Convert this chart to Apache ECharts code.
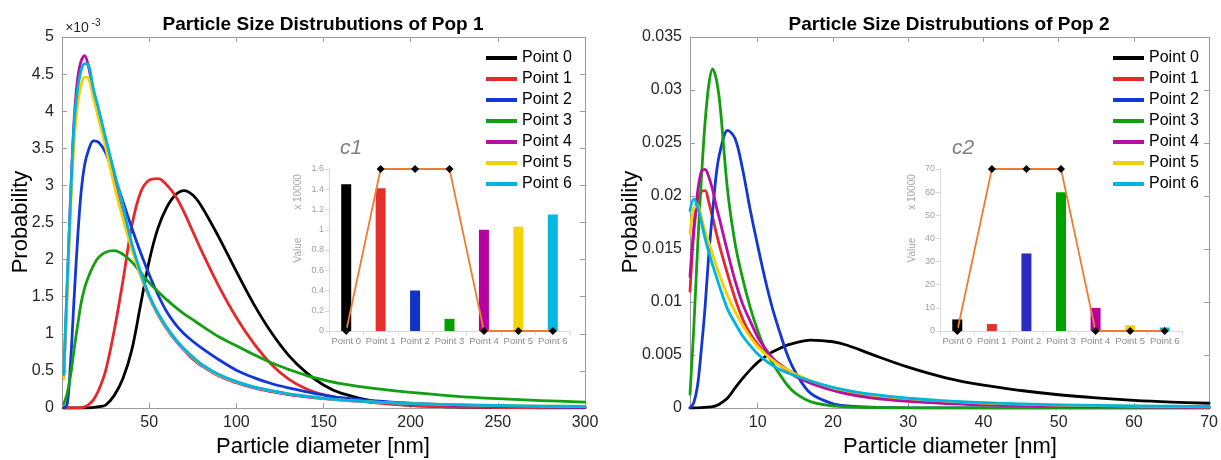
<!DOCTYPE html>
<html>
<head>
<meta charset="utf-8">
<script src="https://cdn.jsdelivr.net/npm/echarts@6/dist/echarts.min.js"></script>
<style>
html,body{margin:0;padding:0;background:#fff;}
#chart{width:1221px;height:460px;}
</style>
</head>
<body>
<div id="chart"></div>
<script>
// ---------- DATA ----------
// Legend names
const pointNames = ['Point 0','Point 1','Point 2','Point 3','Point 4','Point 5','Point 6'];

// Pop 1: particle diameter [nm]; probabilities in units of 1e-3
const pop1Diam = [1,3,5,7,9,11,13,15,18,21,25,30,35,40,45,50,55,60,65,70,75,80,90,100,110,120,130,140,150,160,180,200,225,250,275,300];
const pop1Point0 = [0,0,0,0,0,0,0,0.002,0.007,0.018,0.04,0.17,0.40,0.78,1.38,1.98,2.42,2.70,2.87,2.93,2.87,2.72,2.30,1.84,1.40,1.02,0.71,0.48,0.31,0.20,0.085,0.035,0.014,0.006,0.003,0.001];
const pop1Point1 = [0,0,0,0,0,0.005,0.015,0.04,0.11,0.24,0.50,1.05,1.72,2.45,2.90,3.07,3.09,3.01,2.86,2.64,2.38,2.12,1.64,1.22,0.87,0.59,0.39,0.26,0.18,0.13,0.07,0.035,0.015,0.007,0.003,0.001];
const pop1Point2 = [0,0.05,0.65,1.5,2.3,2.92,3.28,3.46,3.60,3.58,3.44,3.12,2.78,2.43,2.10,1.80,1.53,1.30,1.13,1.00,0.90,0.81,0.65,0.51,0.41,0.33,0.27,0.22,0.175,0.14,0.095,0.065,0.04,0.025,0.015,0.01];
const pop1Point3 = [0.05,0.2,0.45,0.8,1.12,1.42,1.62,1.76,1.92,2.03,2.10,2.12,2.07,1.97,1.83,1.69,1.57,1.46,1.36,1.27,1.19,1.11,0.96,0.84,0.72,0.61,0.52,0.44,0.38,0.33,0.26,0.21,0.16,0.125,0.10,0.08];
const pop1Point4 = [0.4,1.65,2.9,3.9,4.45,4.68,4.75,4.62,4.27,3.97,3.56,3.05,2.58,2.17,1.80,1.50,1.26,1.07,0.91,0.78,0.66,0.57,0.43,0.34,0.27,0.22,0.18,0.15,0.125,0.105,0.075,0.055,0.04,0.03,0.022,0.017];
const pop1Point5 = [0.4,1.55,2.7,3.6,4.1,4.35,4.46,4.45,4.18,3.9,3.52,3.0,2.55,2.15,1.80,1.51,1.27,1.08,0.92,0.79,0.68,0.58,0.44,0.35,0.28,0.23,0.19,0.16,0.13,0.11,0.08,0.06,0.045,0.034,0.026,0.02];
const pop1Point6 = [0.45,1.7,2.85,3.85,4.3,4.55,4.64,4.63,4.30,4.03,3.64,3.18,2.72,2.22,1.84,1.52,1.28,1.09,0.93,0.80,0.69,0.59,0.45,0.355,0.285,0.235,0.19,0.16,0.13,0.11,0.08,0.06,0.045,0.034,0.026,0.02];

// Pop 2: particle diameter [nm]; probabilities in units of 1e-3
const pop2Diam = [1,1.5,2,2.5,3,3.5,4,4.5,5,6,7,8,9,10,11,12,13,14,15,17,20,22,25,30,35,40,45,50,55,60,65,70];
const pop2Point0 = [0,0,0.01,0.03,0.06,0.09,0.12,0.22,0.4,0.95,1.9,2.8,3.6,4.3,4.85,5.3,5.65,5.95,6.15,6.4,6.25,5.9,5.1,3.85,2.85,2.15,1.65,1.25,0.95,0.72,0.56,0.45];
const pop2Point1 = [11.0,16.5,19.4,20.4,20.5,19.4,18.0,16.5,15.1,12.6,10.3,8.4,7.0,6.0,5.2,4.6,4.1,3.6,3.2,2.5,1.75,1.4,1.05,0.7,0.48,0.35,0.26,0.2,0.15,0.12,0.1,0.08];
const pop2Point2 = [0,0.5,2.1,5.5,9.5,14.5,18.5,22.1,24.2,26.2,25.4,22.5,18.7,15.3,12.1,9.3,7.0,4.9,3.4,1.4,0.4,0.2,0.08,0.02,0.01,0,0,0,0,0,0,0];
const pop2Point3 = [1.3,7.5,15.0,21.5,26.9,30.5,32.0,31.0,28.5,20.5,15.5,12.2,9.5,7.3,5.5,4.2,3.1,2.1,1.4,0.6,0.2,0.1,0.05,0.01,0,0,0,0,0,0,0,0];
const pop2Point4 = [12.4,17.0,20.3,22.3,22.5,21.8,20.6,19.0,17.6,14.7,12.0,9.8,8.2,6.7,5.6,4.7,4.0,3.5,3.0,2.35,1.65,1.3,0.95,0.62,0.42,0.3,0.22,0.16,0.12,0.1,0.08,0.06];
const pop2Point5 = [16.5,18.8,19.1,18.0,16.7,15.6,14.5,13.4,12.4,10.6,9.1,7.8,6.7,5.8,5.1,4.5,4.0,3.6,3.2,2.6,1.9,1.6,1.25,0.88,0.64,0.47,0.36,0.28,0.22,0.18,0.15,0.12];
const pop2Point6 = [18.6,19.7,19.0,17.6,16.0,14.7,13.5,12.4,11.3,9.3,8.0,6.8,5.9,5.1,4.5,4.0,3.6,3.3,3.05,2.55,1.95,1.65,1.3,0.92,0.68,0.5,0.39,0.3,0.24,0.2,0.17,0.14];

// Insets (values x 10000)
const insetCategories = ['Point 0','Point 1','Point 2','Point 3','Point 4','Point 5','Point 6'];
const c1Bars = [1.45,1.41,0.40,0.12,1.00,1.03,1.15];
const c1Line = [0,1.6,1.6,1.6,0,0,0];
const c2Bars = [5,3,33.5,60,10,2.5,1.5];
const c2Line = [0,70,70,70,0,0,0];

// Tick values
const pop1XTicks = [0,50,100,150,200,250,300];
const pop2XTicks = [10,20,30,40,50,60,70];

// ---------- STYLE ----------
const lineColors = ['#000000','#e8262b','#1237d8','#12a012','#b80fa3','#f3d000','#00b4e0'];
const barColors  = ['#000000','#e53030','#1034c8','#00a000','#b800a0','#f2d400','#00b8e0'];
const bar2Colors = ['#000000','#e53030','#2a2ac0','#00a000','#b800a0','#f2d400','#00b8e0'];
const FONT = '"Liberation Sans", Arial, sans-serif';
const frameColor = '#9c9c9c';
const labelColor = '#262626';

const chart = echarts.init(document.getElementById('chart'), null, {renderer:'canvas'});

function curveSeries(xs, ys, i, xi, yi) {
  return {
    type:'line', name: pointNames[i], xAxisIndex: xi, yAxisIndex: yi,
    data: xs.map((x,k)=>[x, ys[k]]),
    showSymbol:false, symbol:'none', smooth:0.35,
    lineStyle:{color: lineColors[i], width:2.8, join:'round', cap:'round'},
    itemStyle:{color: lineColors[i]},
    z: 2 + i, animation:false
  };
}

const pop1 = [pop1Point0,pop1Point1,pop1Point2,pop1Point3,pop1Point4,pop1Point5,pop1Point6];
const pop2 = [pop2Point0,pop2Point1,pop2Point2,pop2Point3,pop2Point4,pop2Point5,pop2Point6];

const series = [];
pop1.forEach((ys,i)=>series.push(curveSeries(pop1Diam, ys, i, 0, 0)));
pop2.forEach((ys,i)=>series.push(curveSeries(pop2Diam, ys, i, 2, 2)));

series.push({
  type:'bar', name:'c1', xAxisIndex:4, yAxisIndex:4, barWidth:10,
  data: c1Bars.map((v,i)=>({value:v, itemStyle:{color:barColors[i]}})), z:20
});
series.push({
  type:'line', name:'c1 line', xAxisIndex:4, yAxisIndex:4, data:c1Line,
  symbol:'diamond', symbolSize:8, itemStyle:{color:'#000'},
  lineStyle:{color:'#ED7D31', width:1.8}, z:21
});
series.push({
  type:'bar', name:'c2', xAxisIndex:5, yAxisIndex:5, barWidth:10,
  data: c2Bars.map((v,i)=>({value:v, itemStyle:{color:bar2Colors[i]}})), z:20
});
series.push({
  type:'line', name:'c2 line', xAxisIndex:5, yAxisIndex:5, data:c2Line,
  symbol:'diamond', symbolSize:8, itemStyle:{color:'#000'},
  lineStyle:{color:'#ED7D31', width:1.8}, z:21
});

function mainX(grid, min, max, ticks, pos, showLabel) {
  return {
    type:'value', gridIndex:grid, min:min, max:max, position:pos,
    axisLine:{show:true, onZero:false, lineStyle:{color:frameColor, width:1}},
    axisTick:{show:true, inside:true, length:5, customValues:ticks, lineStyle:{color:frameColor}},
    axisLabel:{show:showLabel, customValues:ticks.filter(v=>v!==0), fontSize:16, color:labelColor, fontFamily:FONT, margin:7},
    splitLine:{show:false}
  };
}
function mainY(grid, max, interval, pos, showLabel, fmt) {
  return {
    type:'value', gridIndex:grid, min:0, max:max, interval:interval, position:pos,
    axisLine:{show:true, onZero:false, lineStyle:{color:frameColor, width:1}},
    axisTick:{show:true, inside:true, length:5, lineStyle:{color:frameColor}},
    axisLabel:{show:showLabel, fontSize:16, color:labelColor, fontFamily:FONT, margin:8, formatter:fmt},
    splitLine:{show:false}
  };
}
function insetX(grid) {
  return {
    type:'category', gridIndex:grid, data:insetCategories, boundaryGap:true,
    axisLine:{show:true, lineStyle:{color:'#d9d9d9'}},
    axisTick:{show:true, length:4, interval:0, lineStyle:{color:'#d9d9d9'}},
    axisLabel:{interval:0, fontSize:9.5, color:'#8c8c8c', fontFamily:FONT, margin:5}
  };
}
function insetY(grid, max, interval) {
  return {
    type:'value', gridIndex:grid, min:0, max:max, interval:interval,
    axisLine:{show:true, lineStyle:{color:'#d9d9d9'}},
    axisTick:{show:true, length:4, lineStyle:{color:'#d9d9d9'}},
    axisLabel:{fontSize:9, color:'#a0a0a0', fontFamily:FONT, margin:5},
    splitLine:{show:false}
  };
}

const legendCommon = {
  orient:'vertical', top:47.5, itemWidth:31, itemHeight:4, itemGap:0, icon:'rect',
  data: pointNames, backgroundColor:'transparent', padding:0,
  textStyle:{fontSize:16, color:'#000', fontFamily:FONT, lineHeight:21}
};

const T = (x,y,text,extra,rot)=>({
  type:'text', x:x, y:y, rotation: rot||0, z:50,
  style:Object.assign({text:text, fill:'#000', fontFamily:FONT, align:'center', verticalAlign:'middle'}, extra)
});

chart.setOption({
  animation:false,
  backgroundColor:'#ffffff',
  grid:[
    {left:62, top:37, width:523, height:371},
    {left:690, top:37, width:520, height:371},
    {left:329, top:169, width:241, height:162},
    {left:940, top:169, width:242, height:162}
  ],
  xAxis:[
    mainX(0, 0, 300, pop1XTicks, 'bottom', true),
    mainX(0, 0, 300, pop1XTicks, 'top', false),
    mainX(1, 1, 70, pop2XTicks, 'bottom', true),
    mainX(1, 1, 70, pop2XTicks, 'top', false),
    insetX(2),
    insetX(3)
  ],
  yAxis:[
    mainY(0, 5, 0.5, 'left', true, v=>String(v)),
    mainY(0, 5, 0.5, 'right', false),
    mainY(1, 35, 5, 'left', true, v=>String(+(v/1000).toFixed(3))),
    mainY(1, 35, 5, 'right', false),
    insetY(2, 1.6, 0.2),
    insetY(3, 70, 10)
  ],
  legend:[
    Object.assign({left:486}, legendCommon),
    Object.assign({left:1113}, legendCommon)
  ],
  series: series,
  graphic:[
    T(323, 24.5, 'Particle Size Distrubutions of Pop 1', {fontSize:19, fontWeight:'bold'}),
    T(949, 24.5, 'Particle Size Distrubutions of Pop 2', {fontSize:19, fontWeight:'bold'}),
    T(77, 28.5, '×10', {fontSize:14, fill:labelColor}),
    T(96, 23, '-3', {fontSize:10, fill:labelColor}),
    T(21, 222, 'Probability', {fontSize:22}, Math.PI/2),
    T(631, 222, 'Probability', {fontSize:22}, Math.PI/2),
    T(323, 447, 'Particle diameter [nm]', {fontSize:22}),
    T(950, 447, 'Particle diameter [nm]', {fontSize:22}),
    T(340, 148, 'c1', {fontSize:21, fontStyle:'italic', fill:'#808080', align:'left'}),
    T(952, 148, 'c2', {fontSize:21, fontStyle:'italic', fill:'#808080', align:'left'}),
    T(298, 250, 'Value', {fontSize:10, fill:'#a6a6a6'}, Math.PI/2),
    T(298, 192, 'x 10000', {fontSize:10, fill:'#a6a6a6'}, Math.PI/2),
    T(912, 250, 'Value', {fontSize:10, fill:'#a6a6a6'}, Math.PI/2),
    T(912, 192, 'x 10000', {fontSize:10, fill:'#a6a6a6'}, Math.PI/2)
  ]
});
</script>
</body>
</html>
